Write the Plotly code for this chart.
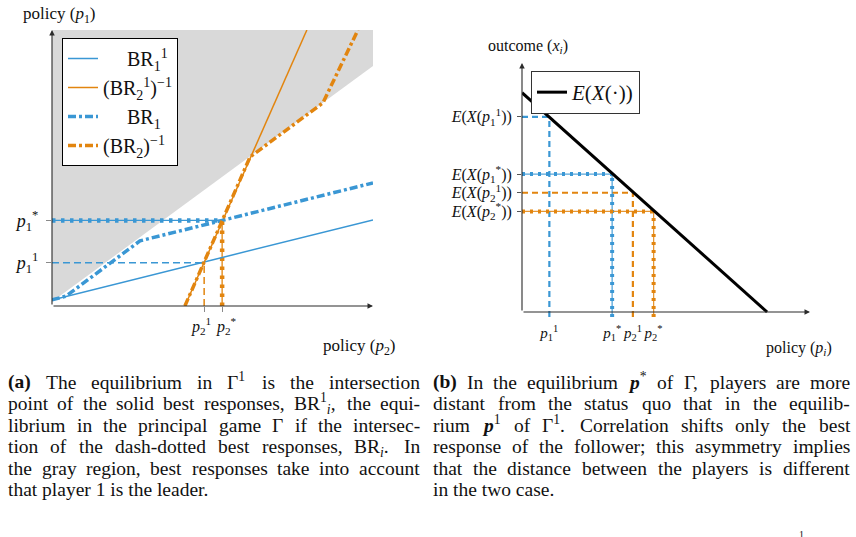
import re
import plotly.graph_objects as go

W_PX, H_PX = 856, 537
BLUE = "#3a97d4"
ORANGE = "#e2850f"
GRAY = "#d9d9d9"
AXIS = "#2b2b2b"
FONT = "Liberation Serif"
TXT = "#111111"

# ---------------- data: left panel (policy p2 vs policy p1) ----------------
gray_x = [0, 10, 10, 0]
gray_y = [0.15, 8.70, 10, 10]
br1_1_x = [0, 10]
br1_1_y = [0.22, 3.12]
br2_1_inv_x = [4.14, 7.94]
br2_1_inv_y = [0, 10]
br1_x = [0, 0.44, 2.74, 10]
br1_y = [0.22, 0.36, 2.36, 4.46]
br2_inv_x = [4.14, 6.17, 8.44, 9.53]
br2_inv_y = [0, 5.40, 7.36, 10]
left_p1 = [1.57, 3.10]   # p1^1, p1*
left_p2 = [4.74, 5.30]   # p2^1, p2*
left_ytick_text = ["<i>p</i><sub>1</sub><sup>1</sup>", "<i>p</i><sub>1</sub><sup>*</sup>"]
left_xtick_text = ["<i>p</i><sub>2</sub><sup>1</sup>", "<i>p</i><sub>2</sub><sup>*</sup>"]
legend_names = ["\u2002\u2002\u2009BR<sub>1</sub><sup>1</sup>",
                "(BR<sub>2</sub><sup>1</sup>)<sup>\u22121</sup>",
                "\u2002\u2002\u2009BR<sub>1</sub>",
                "(BR<sub>2</sub>)<sup>\u22121</sup>"]

# ---------------- data: right panel (policy vs outcome) ----------------
ex_x = [0, 8.51]
ex_y = [8.81, 0]
right_pol = [0.95, 3.13, 3.85, 4.57]    # p1^1, p1*, p2^1, p2*
right_out = [7.84, 5.54, 4.79, 4.04]    # E(X(.)) at those policies
right_xtick_text = ["<i>p</i><sub>1</sub><sup>1</sup>", "<i>p</i><sub>1</sub><sup>*</sup>",
                    "<i>p</i><sub>2</sub><sup>1</sup>", "<i>p</i><sub>2</sub><sup>*</sup>"]
right_ytick_text = ["<i>E</i>(<i>X</i>(<i>p</i><sub>1</sub><sup>1</sup>))",
                    "<i>E</i>(<i>X</i>(<i>p</i><sub>1</sub><sup>*</sup>))",
                    "<i>E</i>(<i>X</i>(<i>p</i><sub>2</sub><sup>1</sup>))",
                    "<i>E</i>(<i>X</i>(<i>p</i><sub>2</sub><sup>*</sup>))"]

# ---------------- captions ----------------
caption_a = [
    ["<b>(a)</b>", "The", "equilibrium", "in", "Γ<sup>1</sup>", "is", "the", "intersection"],
    ["point", "of", "the", "solid", "best", "responses,", "BR<sup>1</sup><sub><i>i</i></sub>,", "the", "equi-"],
    ["librium", "in", "the", "principal", "game", "Γ", "if", "the", "intersec-"],
    ["tion", "of", "the", "dash-dotted", "best", "responses,", "BR<sub><i>i</i></sub>.", "In"],
    ["the", "gray", "region,", "best", "responses", "take", "into", "account"],
    ["that player 1 is the leader."],
]
caption_b = [
    ["<b>(b)</b>", "In", "the", "equilibrium", "<b><i>p</i></b><sup>*</sup>", "of", "Γ,", "players", "are", "more"],
    ["distant", "from", "the", "status", "quo", "that", "in", "the", "equilib-"],
    ["rium", "<b><i>p</i></b><sup>1</sup>", "of", "Γ<sup>1</sup>.", "Correlation", "shifts", "only", "the", "best"],
    ["response", "of", "the", "follower;", "this", "asymmetry", "implies"],
    ["that", "the", "distance", "between", "the", "players", "is", "different"],
    ["in the two case."],
]

# ---------------- helpers ----------------
def px_x(px):
    return px / W_PX


def px_y(py):
    return 1 - py / H_PX


CW = dict(zip("abcdefghijklmnopqrstuvwxyz",
              [444, 500, 444, 500, 444, 333, 500, 500, 278, 278, 500, 278, 778,
               500, 500, 500, 500, 333, 389, 278, 500, 500, 722, 500, 500, 444]))
CW.update(dict(zip("ABCDEFGHIJKLMNOPQRSTUVWXYZ",
                   [722, 667, 667, 722, 611, 556, 722, 722, 333, 389, 722, 611, 889,
                    722, 722, 556, 722, 667, 556, 611, 722, 722, 944, 722, 722, 611])))
CW.update({" ": 250, ",": 250, ".": 250, ";": 278, ":": 278, "-": 333, "(": 333, ")": 333,
           "*": 500, "Γ": 578, "\u2212": 564})
for d in "0123456789":
    CW[d] = 500
BOLD = {"(": 333, ")": 333, "a": 500, "b": 556, "p": 500}


def text_width(html, size):
    total = 0.0
    bold = 0
    small = 0
    for tok in re.split(r"(<[^>]+>)", html):
        if not tok:
            continue
        if tok.startswith("<"):
            tag = tok.strip("<>/").lower()
            d = -1 if tok.startswith("</") else 1
            if tag == "b":
                bold += d
            elif tag in ("sup", "sub"):
                small += d
            continue
        scale = 0.7 if small > 0 else 1.0
        for ch in tok:
            w = BOLD[ch] if (bold > 0 and ch in BOLD) else CW.get(ch, 500)
            total += w * scale
    width = total * size / 1000.0
    if "<sup>" in html or "<sub>" in html:
        width += 2.5
    return width


fig = go.Figure()

# ---------------- left panel traces ----------------
fig.add_trace(go.Scatter(x=gray_x, y=gray_y, fill="toself", fillcolor=GRAY, mode="lines",
                         line=dict(width=0, color=GRAY), showlegend=False, hoverinfo="skip",
                         xaxis="x", yaxis="y"))
# guides
fig.add_trace(go.Scatter(x=[0, left_p2[0]], y=[left_p1[0], left_p1[0]], mode="lines",
                         line=dict(color=BLUE, width=1.5, dash="7px,4px"), showlegend=False))
fig.add_trace(go.Scatter(x=[left_p2[0], left_p2[0]], y=[0, left_p1[0]], mode="lines",
                         line=dict(color=ORANGE, width=1.5, dash="7px,4px"), showlegend=False))
for xs, ys, c in [([0, left_p2[1]], [left_p1[1], left_p1[1]], BLUE),
                  ([left_p2[1], left_p2[1]], [0, left_p1[1]], ORANGE)]:
    fig.add_trace(go.Scatter(x=xs, y=ys, mode="lines", line=dict(color=c, width=1.3),
                             showlegend=False))
    fig.add_trace(go.Scatter(x=xs, y=ys, mode="lines", line=dict(color=c, width=4.5, dash="3.5px,5.5px"),
                             showlegend=False))
# best responses (legend)
fig.add_trace(go.Scatter(x=br1_1_x, y=br1_1_y, mode="lines", name=legend_names[0],
                         line=dict(color=BLUE, width=1.5), legend="legend"))
fig.add_trace(go.Scatter(x=br2_1_inv_x, y=br2_1_inv_y, mode="lines", name=legend_names[1],
                         line=dict(color=ORANGE, width=1.5), legend="legend"))
fig.add_trace(go.Scatter(x=br1_x, y=br1_y, mode="lines", name=legend_names[2],
                         line=dict(color=BLUE, width=3.5, dash="8px,3px,3px,3px"), legend="legend"))
fig.add_trace(go.Scatter(x=br2_inv_x, y=br2_inv_y, mode="lines", name=legend_names[3],
                         line=dict(color=ORANGE, width=3.5, dash="8px,3px,3px,3px"), legend="legend"))

# ---------------- right panel traces ----------------
# p1^1 dashed blue
fig.add_trace(go.Scatter(x=[0, right_pol[0]], y=[right_out[0], right_out[0]], mode="lines",
                         line=dict(color=BLUE, width=2.2, dash="6px,4px"), showlegend=False,
                         xaxis="x2", yaxis="y2"))
fig.add_trace(go.Scatter(x=[right_pol[0], right_pol[0]], y=[-0.2, right_out[0]], mode="lines",
                         line=dict(color=BLUE, width=2.2, dash="6px,4px"), showlegend=False,
                         xaxis="x2", yaxis="y2"))
# p2^1 dashed orange
fig.add_trace(go.Scatter(x=[0, right_pol[2]], y=[right_out[2], right_out[2]], mode="lines",
                         line=dict(color=ORANGE, width=2.2, dash="6px,4px"), showlegend=False,
                         xaxis="x2", yaxis="y2"))
fig.add_trace(go.Scatter(x=[right_pol[2], right_pol[2]], y=[-0.2, right_out[2]], mode="lines",
                         line=dict(color=ORANGE, width=2.2, dash="6px,4px"), showlegend=False,
                         xaxis="x2", yaxis="y2"))
# p1* and p2* dotted
for idx, c in [(1, BLUE), (3, ORANGE)]:
    for xs, ys in [([0, right_pol[idx]], [right_out[idx], right_out[idx]]),
                   ([right_pol[idx], right_pol[idx]], [-0.2, right_out[idx]])]:
        fig.add_trace(go.Scatter(x=xs, y=ys, mode="lines", line=dict(color=c, width=1.3),
                                 opacity=0.85, showlegend=False, xaxis="x2", yaxis="y2"))
        fig.add_trace(go.Scatter(x=xs, y=ys, mode="lines",
                                 line=dict(color=c, width=4, dash="3px,5px"),
                                 showlegend=False, xaxis="x2", yaxis="y2"))
fig.add_trace(go.Scatter(x=ex_x, y=ex_y, mode="lines", name="<i>E</i>(<i>X</i>(·))",
                         line=dict(color="black", width=3), legend="legend2",
                         xaxis="x2", yaxis="y2"))

# ---------------- annotations ----------------
ann = []


def arrow(xref, yref, x, y, ax, ay):
    ann.append(dict(x=x, y=y, ax=ax, ay=ay, xref=xref, yref=yref, axref=xref, ayref=yref,
                    text="", showarrow=True, arrowhead=2, arrowsize=1, arrowwidth=1.1,
                    arrowcolor=AXIS, standoff=0, startstandoff=0))


arrow("x", "y", 10, 0, 0, 0)
arrow("x", "y", 0, 10, 0, 0)
arrow("x2", "y2", 10, 0, 0, 0)
arrow("x2", "y2", 0, 10, 0, 0)


def label(text, px, py, size, xanchor="left", yanchor="middle"):
    ann.append(dict(text=text, x=px_x(px), y=px_y(py), xref="paper", yref="paper",
                    xanchor=xanchor, yanchor=yanchor, showarrow=False, borderpad=0,
                    font=dict(family=FONT, size=size, color=TXT)))


label("policy (<i>p</i><sub>1</sub>)", 22, 15, 17)
label("policy (<i>p</i><sub>2</sub>)", 322, 347, 17)
label("outcome (<i>x</i><sub><i>i</i></sub>)", 487, 47, 16)
label("policy (<i>p</i><sub><i>i</i></sub>)", 765, 348, 16)

# left x tick labels (tightly spaced, nudged apart like the reference)
for val, txt, xs in zip(left_p2, left_xtick_text, [-3, 4]):
    ann.append(dict(text=txt, x=val, y=0, xref="x", yref="y", xanchor="center",
                    yanchor="top", yshift=-8, xshift=xs, showarrow=False, borderpad=0,
                    font=dict(family=FONT, size=16, color=TXT)))

FS = 19.5
LINE_Y = [382, 403.5, 425, 446.5, 468, 489.5]


def caption(lines, x0, x1):
    for k, words in enumerate(lines):
        yc = LINE_Y[k]
        if len(words) == 1:
            label(words[0], x0, yc, FS)
            continue
        widths = [text_width(w, FS) for w in words]
        gap = (x1 - x0 - sum(widths)) / (len(words) - 1)
        cur = x0
        for w, wd in zip(words, widths):
            ys = 0
            if "<sup>" in w:
                ys += 1.5
            if "<sub>" in w:
                ys -= 1.5
            ann.append(dict(text=w, x=px_x(cur), y=px_y(yc), xref="paper", yref="paper",
                            xanchor="left", yanchor="middle", showarrow=False, borderpad=0,
                            yshift=ys, font=dict(family=FONT, size=FS, color=TXT)))
            cur += wd + gap


caption(caption_a, 7, 419)
caption(caption_b, 432, 849)
label("1", 798, 528, 10, yanchor="top")

# ---------------- layout ----------------
tickfont_l = dict(family=FONT, size=18, color=TXT)
tickfont_r = dict(family=FONT, size=16, color=TXT)
fig.update_layout(
    width=W_PX, height=H_PX,
    margin=dict(l=0, r=0, t=0, b=0),
    paper_bgcolor="white", plot_bgcolor="white",
    font=dict(family=FONT, color=TXT),
    xaxis=dict(domain=[px_x(52), px_x(373)], range=[0, 10], anchor="y",
               showgrid=False, zeroline=False, showline=False,
               tickmode="array", tickvals=left_p2, ticktext=["", ""], tickangle=0,
               ticks="outside", ticklen=5, tickcolor="#8a8a8a", tickwidth=1.2,
               tickfont=tickfont_l, automargin=False),
    yaxis=dict(domain=[px_y(306), px_y(30)], range=[0, 10], anchor="x",
               showgrid=False, zeroline=False, showline=False,
               tickmode="array", tickvals=left_p1, ticktext=left_ytick_text,
               ticks="outside", ticklen=5, tickcolor="#8a8a8a", tickwidth=1.2,
               ticklabelstandoff=4, tickfont=tickfont_l, automargin=False),
    xaxis2=dict(domain=[px_x(522), px_x(810)], range=[0, 10], anchor="free",
                position=px_y(312), showgrid=False, zeroline=False, showline=False,
                tickmode="array", tickvals=right_pol, ticktext=right_xtick_text, tickangle=0,
                ticks="outside", ticklen=7, tickcolor="rgba(0,0,0,0)",
                tickfont=dict(family=FONT, size=15, color=TXT), automargin=False),
    yaxis2=dict(domain=[px_y(321.96), px_y(63)], range=[-0.4, 10], anchor="x2",
                showgrid=False, zeroline=False, showline=False,
                tickmode="array", tickvals=right_out, ticktext=right_ytick_text,
                ticks="outside", ticklen=4, tickcolor="#555555", tickwidth=1.2,
                ticklabelstandoff=2, tickfont=tickfont_r, automargin=False),
    legend=dict(x=px_x(62), y=px_y(38), xanchor="left", yanchor="top",
                bgcolor="white", bordercolor="black", borderwidth=1,
                font=dict(family=FONT, size=20, color=TXT), itemwidth=30),
    legend2=dict(x=px_x(531), y=px_y(71), xanchor="left", yanchor="top",
                 bgcolor="white", bordercolor="#333333", borderwidth=1,
                 font=dict(family=FONT, size=21, color=TXT), itemwidth=30),
    annotations=ann,
    showlegend=True,
)

fig.write_html("out.html")
